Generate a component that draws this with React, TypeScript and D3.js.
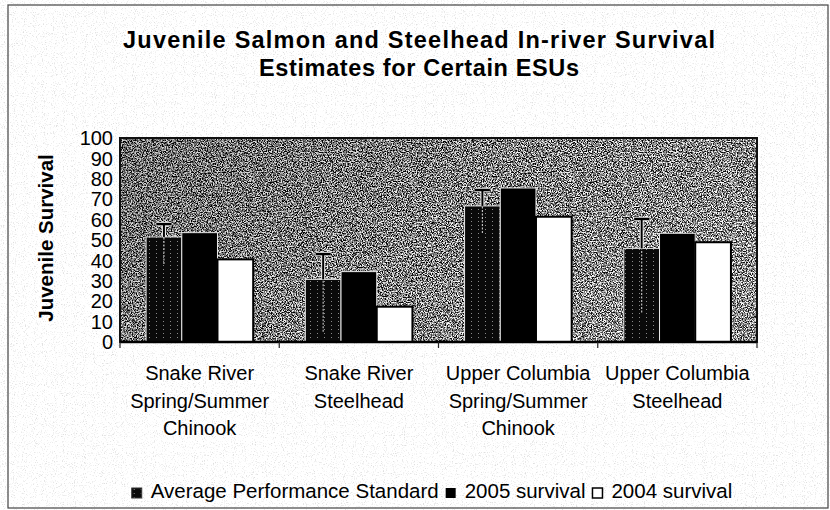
import React, { useEffect, useRef } from "react";
import * as d3 from "d3";

const titleLines = ["Juvenile Salmon and Steelhead In-river Survival", "Estimates for Certain ESUs"];
const yAxisTitle = "Juvenile Survival";
const categories = ["SR-SSC", "SR-STH", "UC-SSC", "UC-STH"];
const categoryLines = [
  ["Snake River", "Spring/Summer", "Chinook"],
  ["Snake River", "Steelhead"],
  ["Upper Columbia", "Spring/Summer", "Chinook"],
  ["Upper Columbia", "Steelhead"],
];
const seriesNames = ["Average Performance Standard", "2005 survival", "2004 survival"];
const avgStandard = [51.5, 30.7, 66.7, 45.9];
const survival2005 = [53.6, 34.5, 75.5, 53.3];
const survival2004 = [40.5, 17.3, 61.4, 48.9];
const errorHigh = [57.8, 43.1, 74.5, 60.3];
const errorLow = [38.2, 5, 53.4, 14.4];
const yTicks = [0, 10, 20, 30, 40, 50, 60, 70, 80, 90, 100];

const W = 830;
const H = 510;
const M = { left: 120, right: 757, top: 138, bottom: 342 };
const FONT = "'Liberation Sans', Arial, Helvetica, sans-serif";

export default function App() {
  const ref = useRef<SVGSVGElement | null>(null);

  useEffect(() => {
    const svg = d3.select(ref.current);
    svg.selectAll("*").remove();

    const defs = svg.append("defs");
    const f1 = defs.append("filter").attr("id", "plotNoise")
      .attr("x", 0).attr("y", 0).attr("width", 1).attr("height", 1)
      .attr("color-interpolation-filters", "sRGB");
    f1.append("feTurbulence").attr("type", "fractalNoise").attr("baseFrequency", 0.8)
      .attr("numOctaves", 3).attr("seed", 7);
    f1.append("feColorMatrix").attr("type", "matrix")
      .attr("values", "3.2 0 0 0 -1.08  3.2 0 0 0 -1.08  3.2 0 0 0 -1.08  0 0 0 0 1");
    const f2 = defs.append("filter").attr("id", "pageNoise")
      .attr("x", 0).attr("y", 0).attr("width", 1).attr("height", 1)
      .attr("color-interpolation-filters", "sRGB");
    f2.append("feTurbulence").attr("type", "fractalNoise").attr("baseFrequency", 0.9)
      .attr("numOctaves", 2).attr("seed", 3);
    f2.append("feColorMatrix").attr("type", "matrix")
      .attr("values", "4 0 0 0 -0.75  4 0 0 0 -0.75  4 0 0 0 -0.75  0 0 0 0 1");

    const pat = defs.append("pattern").attr("id", "apsPat")
      .attr("patternUnits", "userSpaceOnUse").attr("width", 7).attr("height", 4);
    pat.append("rect").attr("width", 7).attr("height", 4).attr("fill", "#0a0a0a");
    pat.append("rect").attr("x", 2).attr("y", 1).attr("width", 1).attr("height", 1).attr("fill", "#8a8a8a");

    const grad = defs.append("linearGradient").attr("id", "shade")
      .attr("x1", 0).attr("y1", 0).attr("x2", 1).attr("y2", 0.4);
    grad.append("stop").attr("offset", "0%").attr("stop-color", "#000").attr("stop-opacity", 0.2);
    grad.append("stop").attr("offset", "60%").attr("stop-color", "#000").attr("stop-opacity", 0.04);
    grad.append("stop").attr("offset", "100%").attr("stop-color", "#fff").attr("stop-opacity", 0.06);

    svg.append("rect").attr("width", W).attr("height", H).attr("fill", "#fff");
    svg.append("rect").attr("width", W).attr("height", H).attr("filter", "url(#pageNoise)").attr("opacity", 0.12);
    svg.append("rect").attr("x", 8).attr("y", 5).attr("width", 820).attr("height", 503)
      .attr("fill", "none").attr("stroke", "#444").attr("stroke-width", 1.2);

    const x = d3.scaleBand<string>().domain(categories).range([M.left, M.right]).paddingInner(0).paddingOuter(0);
    const xs = d3.scaleBand<string>().domain(seriesNames).range([0, x.bandwidth()]).paddingInner(0).paddingOuter(0.73);
    const y = d3.scaleLinear().domain([0, 100]).range([M.bottom, M.top]);

    const pw = M.right - M.left;
    const ph = M.bottom - M.top;
    svg.append("rect").attr("x", M.left).attr("y", M.top).attr("width", pw).attr("height", ph)
      .attr("filter", "url(#plotNoise)");
    svg.append("rect").attr("x", M.left).attr("y", M.top).attr("width", pw).attr("height", ph)
      .attr("fill", "url(#shade)");
    svg.append("rect").attr("x", M.left).attr("y", M.top).attr("width", pw).attr("height", ph)
      .attr("fill", "none").attr("stroke", "#111").attr("stroke-width", 2);

    const seriesData = [avgStandard, survival2005, survival2004];
    const g = svg.append("g");
    categories.forEach((c, i) => {
      const x0 = x(c)!;
      seriesNames.forEach((s, k) => {
        const v = seriesData[k][i];
        const bx = x0 + xs(s)!;
        const r = g.append("rect").attr("x", bx).attr("y", y(v)).attr("width", xs.bandwidth())
          .attr("height", y(0) - y(v));
        if (k === 0) r.attr("fill", "url(#apsPat)").attr("stroke", "#e8e8e8").attr("stroke-width", 1);
        else if (k === 1) r.attr("fill", "#000").attr("stroke", "#e8e8e8").attr("stroke-width", 1);
        else r.attr("fill", "#fff").attr("stroke", "#000").attr("stroke-width", 2);
      });
      const cx = x0 + xs(seriesNames[0])! + xs.bandwidth() / 2;
      const v = avgStandard[i];
      g.append("line").attr("x1", cx).attr("x2", cx).attr("y1", y(errorLow[i])).attr("y2", y(v))
        .attr("stroke", "#bdbdbd").attr("stroke-width", 1.2).attr("stroke-dasharray", "2,1.5");
      const cap = 7.5;
      const eb = g.append("g");
      [["#f0f0f0", 4], ["#000", 2]].forEach(([col, sw]) => {
        eb.append("line").attr("x1", cx).attr("x2", cx).attr("y1", y(v)).attr("y2", y(errorHigh[i]))
          .attr("stroke", col as string).attr("stroke-width", sw as number);
        eb.append("line").attr("x1", cx - cap).attr("x2", cx + cap).attr("y1", y(errorHigh[i])).attr("y2", y(errorHigh[i]))
          .attr("stroke", col as string).attr("stroke-width", (sw as number) + 0.5);
      });
    });

    svg.append("line").attr("x1", M.left).attr("x2", M.right).attr("y1", M.bottom).attr("y2", M.bottom)
      .attr("stroke", "#000").attr("stroke-width", 2.5);
    const bounds = categories.map((c) => x(c)!).concat([M.right]);
    bounds.forEach((bx) => {
      svg.append("line").attr("x1", bx).attr("x2", bx).attr("y1", M.bottom).attr("y2", M.bottom + 6)
        .attr("stroke", "#222").attr("stroke-width", 1.2);
    });

    yTicks.forEach((t) => {
      svg.append("text").attr("x", 113).attr("y", y(t)).attr("dy", "0.36em")
        .attr("text-anchor", "end").attr("font-family", FONT).attr("font-size", 20)
        .attr("fill", "#000").text(String(t));
    });

    svg.append("text").attr("transform", `translate(53,238) rotate(-90)`)
      .attr("text-anchor", "middle").attr("font-family", FONT).attr("font-size", 20.5)
      .attr("font-weight", "bold").attr("fill", "#000").text(yAxisTitle);

    categories.forEach((c, i) => {
      const cx = x(c)! + x.bandwidth() / 2;
      const t = svg.append("text").attr("text-anchor", "middle").attr("font-family", FONT)
        .attr("font-size", 20).attr("fill", "#000");
      categoryLines[i].forEach((ln, j) => {
        t.append("tspan").attr("x", cx).attr("y", 380 + j * 27.5).text(ln);
      });
    });

    const tl = [592, 320];
    titleLines.forEach((ln, j) => {
      svg.append("text").attr("x", 419).attr("y", 48 + j * 28).attr("text-anchor", "middle")
        .attr("font-family", FONT).attr("font-size", 23.5).attr("font-weight", "bold")
        .attr("textLength", tl[j]).attr("lengthAdjust", "spacing").attr("fill", "#000").text(ln);
    });

    const lg = svg.append("g");
    let cur = 0;
    const sq = 10;
    seriesNames.forEach((s, k) => {
      const r = lg.append("rect").attr("x", cur).attr("y", 488).attr("width", sq).attr("height", sq);
      if (k === 0) r.attr("fill", "url(#apsPat)").attr("stroke", "#333").attr("stroke-width", 1);
      else if (k === 1) r.attr("fill", "#000");
      else r.attr("fill", "#fff").attr("stroke", "#000").attr("stroke-width", 1.5);
      cur += sq + 9;
      const t = lg.append("text").attr("x", cur).attr("y", 498).attr("font-family", FONT)
        .attr("font-size", 20.5).attr("fill", "#000").text(s);
      const w = (t.node() as SVGTextElement).getComputedTextLength();
      cur += w + 7;
    });
    const total = cur - 7;
    lg.attr("transform", `translate(${432 - total / 2},0)`);
  }, []);

  return (
    <svg ref={ref} width={W} height={H} style={{ position: "absolute", left: 0, top: 0, display: "block" }} />
  );
}
